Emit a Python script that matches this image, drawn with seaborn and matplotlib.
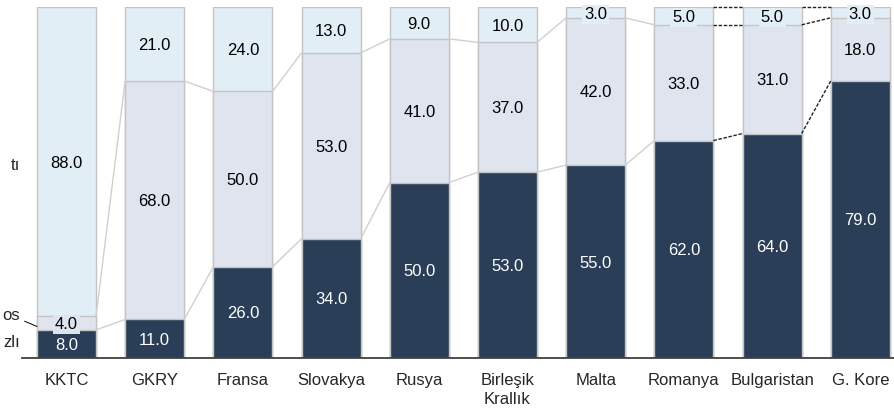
import matplotlib
matplotlib.use("Agg")
import matplotlib.pyplot as plt
import seaborn as sns
import numpy as np
import pandas as pd

categories = ["KKTC", "GKRY", "Fransa", "Slovakya", "Rusya", "Birleşik\nKrallık",
              "Malta", "Romanya", "Bulgaristan", "G. Kore"]
bottom_vals = [8.0, 11.0, 26.0, 34.0, 50.0, 53.0, 55.0, 62.0, 64.0, 79.0]
middle_vals = [4.0, 68.0, 50.0, 53.0, 41.0, 37.0, 42.0, 33.0, 31.0, 18.0]
top_vals = [88.0, 21.0, 24.0, 13.0, 9.0, 10.0, 3.0, 5.0, 5.0, 3.0]
series_labels = ["zlı", "os", "tı"]
highlight_pairs = [(7, 8), (8, 9)]

c_dark = "#2b3e58"
c_mid = "#dfe4ee"
c_top = "#e2eef5"
edge = "#c4c4c4"

sns.set_style("white")
plt.rcParams["font.family"] = ["Liberation Sans", "DejaVu Sans"]

W, H = 894, 409
fig = plt.figure(figsize=(W / 100, H / 100), dpi=100)
ax = fig.add_axes([22 / W, (H - 358) / H, 1 - 22 / W, (358 - 7.3) / H])

b = np.array(bottom_vals)
m = np.array(middle_vals)
t = np.array(top_vals)
lvl1 = b
lvl2 = b + m
lvl3 = b + m + t

df = pd.DataFrame({"cat": categories, "l1": lvl1, "l2": lvl2, "l3": lvl3})
bw = 0.67
for col, colr in [("l3", c_top), ("l2", c_mid), ("l1", c_dark)]:
    sns.barplot(data=df, x="cat", y=col, order=categories, color=colr, saturation=1,
                width=bw, edgecolor=edge, linewidth=1, ax=ax, errorbar=None)

# connectors
n = len(categories)
for i in range(n - 1):
    hl = (i, i + 1) in highlight_pairs
    for li, lv in enumerate([lvl1, lvl2, lvl3]):
        if li == 2 and not hl:
            continue
        if hl:
            ax.plot([i + bw / 2, i + 1 - bw / 2], [lv[i], lv[i + 1]], color="#222222",
                    lw=1.0, ls=(0, (2.5, 1.2)), zorder=5, clip_on=False)
        else:
            ax.plot([i + bw / 2, i + 1 - bw / 2], [lv[i], lv[i + 1]], color="#d0d0d0",
                    lw=1.0, zorder=1)

# value labels
for i in range(n):
    segs = [(b[i], 0, c_dark, "white"), (m[i], lvl1[i], c_mid, "black"),
            (t[i], lvl2[i], c_top, "black")]
    for val, base, fc, tc in segs:
        ax.text(i, base + val / 2, f"{val:.1f}", ha="center", va="center_baseline",
                fontsize=12, color=tc, zorder=6,
                bbox=dict(boxstyle="square,pad=0.12", facecolor=fc, edgecolor="none"))

ax.set_xlim((22 - 66.5) / 88.2, (894 - 66.5) / 88.2)
ax.set_ylim(0, 100)
ax.set_xlabel("")
ax.set_ylabel("")
ax.set_yticks([])
ax.set_xticks(range(n))
ax.set_xticklabels(categories, fontsize=12, linespacing=1.3)
ax.tick_params(axis="x", length=0, pad=11)
for s in ["left", "top", "right"]:
    ax.spines[s].set_visible(False)
ax.spines["bottom"].set_color("#404040")
ax.spines["bottom"].set_linewidth(1.3)

# clipped series labels on the left
fig.text(20 / W, 1 - 164 / H, series_labels[2], ha="right", va="center_baseline", fontsize=12)
fig.text(20 / W, 1 - 341 / H, series_labels[0], ha="right", va="center_baseline", fontsize=12)
ax.annotate(series_labels[1], xy=(-bw / 2, lvl1[0] + m[0] / 2 - 1),
            xytext=(20 / W, 1 - 314 / H), textcoords="figure fraction",
            ha="right", va="center_baseline", fontsize=12,
            arrowprops=dict(arrowstyle="-", color="black", lw=0.7,
                            shrinkA=1, shrinkB=0))

fig.savefig("out.png", dpi=100)
